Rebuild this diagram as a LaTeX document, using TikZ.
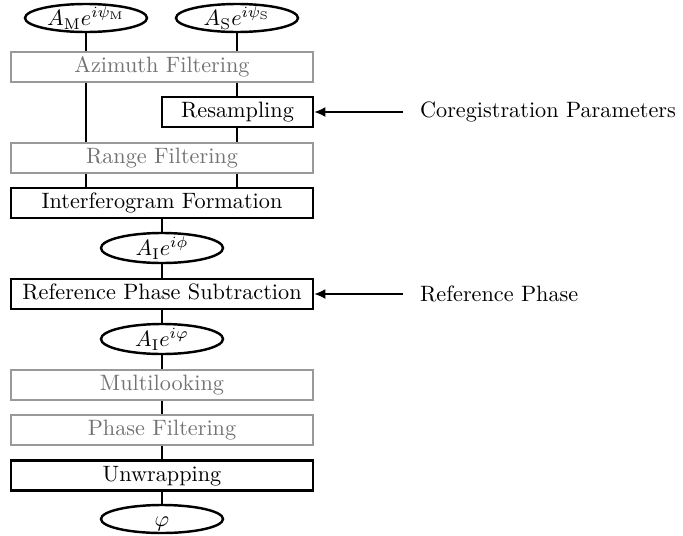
\documentclass[tikz,border=0pt]{standalone}
\usetikzlibrary{shapes.geometric,arrows.meta}
\begin{document}
\begin{tikzpicture}[x=0.45pt,y=-0.45pt,
  proc/.style={draw=black,line width=1.2pt,fill=white,minimum height=13.5pt,inner sep=0pt,text height=7pt,text depth=2pt},
  grayproc/.style={draw=black!40,line width=0.5pt,fill=white,text=black!55,minimum height=13.5pt,inner sep=0pt,text height=7pt,text depth=2pt},
  wide/.style={minimum width=135.9pt},
  sig/.style={draw=black,line width=1.1pt,ellipse,fill=white,minimum width=54.9pt,minimum height=12.6pt,inner sep=0pt,text height=7pt,text depth=0pt},
  conn/.style={line width=1.2pt},
  feed/.style={line width=0.6pt,-{Latex[length=5pt,width=4.5pt]}},
  lbl/.style={anchor=west,inner xsep=7.5pt,inner ysep=0pt}]
\useasboundingbox (0,0) rectangle (683,535);
\node[sig] (em) at (86,18) {$A_{\mathrm{M}}e^{i\psi_{\mathrm{M}}}$};
\node[sig] (es) at (237,18) {$A_{\mathrm{S}}e^{i\psi_{\mathrm{S}}}$};
\node[grayproc,wide] (az) at (162,67) {Azimuth Filtering};
\node[proc,minimum width=67.95pt] (rs) at (237.5,112) {Resampling};
\node[grayproc,wide] (rf) at (162,158) {Range Filtering};
\node[proc,wide] (ifg) at (162,203) {Interferogram Formation};
\node[sig,minimum height=13.5pt] (ei1) at (162,248) {$A_{\mathrm{I}}e^{i\phi}$};
\node[proc,wide] (rps) at (162,294) {Reference Phase Subtraction};
\node[sig,minimum height=13.5pt] (ei2) at (162,339) {$A_{\mathrm{I}}e^{i\varphi}$};
\node[grayproc,wide] (ml) at (162,385) {Multilooking};
\node[grayproc,wide] (pf) at (162,430) {Phase Filtering};
\node[proc,wide] (uw) at (162,475.5) {Unwrapping};
\node[sig] (ephi) at (162,519) {$\varphi$};
\node[lbl] (cp) at (403,112) {Coregistration Parameters};
\node[lbl] (rp) at (403,294) {Reference Phase};
% connectors
\draw[conn] (em.south) -- (em.south |- az.north);
\draw[conn] (em.south |- az.south) -- (em.south |- rf.north);
\draw[conn] (em.south |- rf.south) -- (em.south |- ifg.north);
\draw[conn] (es.south) -- (es.south |- az.north);
\draw[conn] (es.south |- az.south) -- (es.south |- rs.north);
\draw[conn] (es.south |- rs.south) -- (es.south |- rf.north);
\draw[conn] (es.south |- rf.south) -- (es.south |- ifg.north);
\draw[conn] (ifg) -- (ei1);
\draw[conn] (ei1) -- (rps);
\draw[conn] (rps) -- (ei2);
\draw[conn] (ei2) -- (ml);
\draw[conn] (ml) -- (pf);
\draw[conn] (pf) -- (uw);
\draw[conn] (uw) -- (ephi);
\draw[feed] (cp.west) -- (rs.east);
\draw[feed] (rp.west) -- (rps.east);
\end{tikzpicture}
\end{document}
